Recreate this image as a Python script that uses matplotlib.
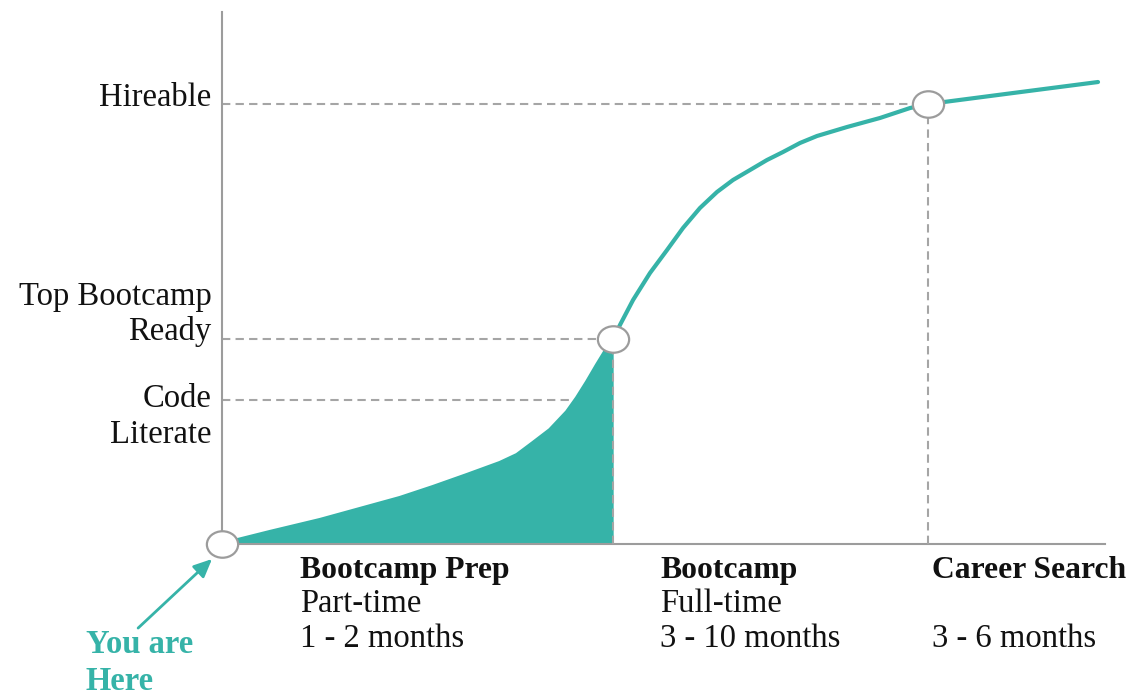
import numpy as np
import matplotlib.pyplot as plt
from matplotlib.path import Path
from matplotlib.transforms import Affine2D

plt.rcParams['font.family'] = ['Liberation Serif', 'DejaVu Serif']

# learning curve: progress along the path (x) vs. skill (y), both 0-100
progress = [0, 5.44, 11.10, 15.63, 20.16, 23.90, 27.75, 31.48, 33.41, 35.22,
            37.15, 39.07, 40.20, 41.34, 42.47, 43.37, 44.3, 45.07, 46.55, 48.47,
            50.40, 52.21, 54.13, 56.06, 57.87, 59.80, 61.72, 63.53, 65.46, 67.38,
            70.78, 74.52, 77.92, 80.0, 89.58, 99.21]
skill = [0, 2.26, 4.51, 6.58, 8.65, 10.71, 12.97, 15.23, 16.73, 18.98,
         21.43, 24.81, 27.44, 30.45, 33.65, 36.09, 38.5, 41.17, 45.86, 50.94,
         55.26, 59.40, 63.16, 66.17, 68.42, 70.30, 72.18, 73.68, 75.38, 76.69,
         78.38, 80.08, 81.95, 82.7, 84.77, 86.84]

level_names = ["Code\nLiterate", "Top Bootcamp\nReady", "Hireable"]
level_values = [27.1, 38.5, 82.7]

milestone_x = [0, 44.3, 80.0]
milestone_y = [0, 38.5, 82.7]

stage_names = ["Bootcamp Prep", "Bootcamp", "Career Search"]
stage_modes = ["Part-time", "Full-time", ""]
stage_lengths = ["1 - 2 months", "3 - 10 months", "3 - 6 months"]
stage_starts = [8.8, 49.6, 80.4]

TEAL = '#36b3a8'
GREY = '#a5a5a5'
AXIS = '#9c9c9c'
FS = 23.5

fig = plt.figure(figsize=(11.3, 6.96), dpi=100)
ax = fig.add_axes([222 / 1130, 152 / 696, 883 / 1130, 532 / 696])
ax.set_xlim(0, 100)
ax.set_ylim(0, 100)
ax.set_xticks([])
ax.set_yticks([])
for s in ['top', 'right']:
    ax.spines[s].set_visible(False)
for s in ['left', 'bottom']:
    ax.spines[s].set_color(AXIS)
    ax.spines[s].set_linewidth(1.5)

# shaded prep section under the curve
k = progress.index(milestone_x[1])
ax.fill_between(progress[:k + 1], skill[:k + 1], 0, color=TEAL, lw=0, zorder=2)
ax.plot(progress, skill, color=TEAL, lw=3, solid_capstyle='round',
        solid_joinstyle='round', zorder=3)

# dashed guides
dash = (0, (4, 2.5))
for name, lv in zip(level_names, level_values):
    xe = np.interp(lv, skill, progress)
    ax.plot([0, xe], [lv, lv], ls=dash, color=GREY, lw=1.5, zorder=1)
for mx, my in zip(milestone_x[1:], milestone_y[1:]):
    ax.plot([mx, mx], [0, my], ls=dash, color=GREY, lw=1.5, zorder=4)

# milestone rings (slightly wide ellipses)
ring = Path.unit_circle().transformed(Affine2D().scale(1.18, 1.0))
ax.plot(milestone_x, milestone_y, ls='none', marker=ring, ms=22.5,
        mfc='white', mec=AXIS, mew=1.6, clip_on=False, zorder=6)

# level labels on the left, baselines relative to the guide (px, down positive)
line_offsets = {"Code\nLiterate": [7, 43],
                "Top Bootcamp\nReady": [-34, 1],
                "Hireable": [2]}
for name, lv in zip(level_names, level_values):
    for line, off in zip(name.split("\n"), line_offsets[name]):
        ax.annotate(line, xy=(0, lv), xytext=(-7.5, -off * 0.72),
                    textcoords='offset points', ha='right', va='baseline',
                    fontsize=FS, color='#111111', annotation_clip=False)

# stage captions under the baseline
for sx, nm, md, ln in zip(stage_starts, stage_names, stage_modes, stage_lengths):
    ax.annotate(nm, xy=(sx, 0), xytext=(0, -24.5), textcoords='offset points',
                ha='left', va='baseline', fontsize=FS - 0.7, fontweight='bold',
                color='#111111', annotation_clip=False)
    ax.annotate(md, xy=(sx, 0), xytext=(0, -49), textcoords='offset points',
                ha='left', va='baseline', fontsize=FS, color='#111111',
                annotation_clip=False)
    ax.annotate(ln, xy=(sx, 0), xytext=(0, -74.2), textcoords='offset points',
                ha='left', va='baseline', fontsize=FS, color='#111111',
                annotation_clip=False)

# "You are Here" pointer
ax.annotate('', xy=(-1.13, -2.82), xytext=(-9.5, -15.8),
            arrowprops=dict(arrowstyle='-|>,head_length=0.55,head_width=0.25',
                            color=TEAL, lw=2, shrinkA=0, shrinkB=0,
                            mutation_scale=20),
            annotation_clip=False)
for line, off in zip(["You are", "Here"], [109, 146]):
    ax.annotate(line, xy=(0, 0), xytext=(-136 * 0.72, -off * 0.72),
                textcoords='offset points', ha='left', va='baseline',
                fontsize=FS, fontweight='bold', color=TEAL,
                annotation_clip=False)

fig.savefig('out.png', dpi=100)
